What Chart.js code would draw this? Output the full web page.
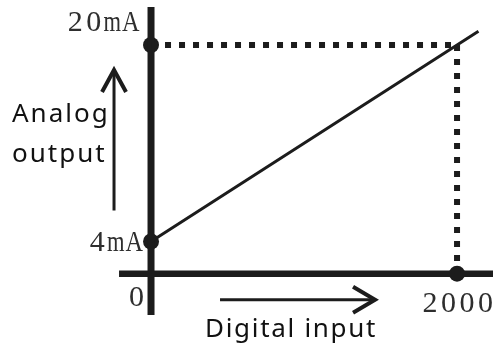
<!DOCTYPE html>
<html><head><meta charset="utf-8">
<script src="https://cdn.jsdelivr.net/npm/chart.js@4/dist/chart.umd.min.js"></script>
<style>html,body{margin:0;padding:0;background:#fff;}#wrap{width:493px;height:345px;position:relative;}</style>
</head><body><div id="wrap"><canvas id="c"></canvas></div>
<script>
// ---- data ----
const inputTicks = [0, 2000];
const inputTickLabels = ['0', '2000'];
const outputTicks = [4, 20];
const outputTickLabels = ['4mA', '20mA'];
const lineInput = [0, 2000, 2140];
const lineOutput = [4, 20, 21.12];
const yTitleLines = ['Analog', 'output'];
const xTitle = 'Digital input';

// ---- scale window (layout) ----
const X_MIN = -987, X_MAX = 2235, Y_MIN = -4.428, Y_MAX = 23.664;
const X_AXIS_AT = 1.38;
const INK = '#1c1c1c';

const pts = (xs, ys) => xs.map((x, i) => ({x, y: ys[i]}));

const overlay = {
  id: 'overlay',
  afterDatasetsDraw(chart) {
    const ctx = chart.ctx, xs = chart.scales.x, ys = chart.scales.y;
    const px = v => xs.getPixelForValue(v), py = v => ys.getPixelForValue(v);
    const axisY = py(X_AXIS_AT);
    ctx.save();
    ctx.strokeStyle = INK; ctx.fillStyle = INK; ctx.lineCap = 'butt'; ctx.lineJoin = 'miter';
    // up arrow
    const ax = px(0) - 37, aTop = py(20) + 25, aBot = py(4) - 31;
    ctx.lineWidth = 3;
    ctx.beginPath(); ctx.moveTo(ax, aBot); ctx.lineTo(ax, aTop + 2); ctx.stroke();
    ctx.lineWidth = 4;
    ctx.beginPath(); ctx.moveTo(ax - 12, aTop + 22); ctx.lineTo(ax, aTop); ctx.lineTo(ax + 12, aTop + 22); ctx.stroke();
    // right arrow
    const ry = axisY + 26, rL = px(0) + 69, rR = px(2000) - 82;
    ctx.lineWidth = 3;
    ctx.beginPath(); ctx.moveTo(rL, ry); ctx.lineTo(rR - 2, ry); ctx.stroke();
    ctx.lineWidth = 4;
    ctx.beginPath(); ctx.moveTo(rR - 22, ry - 13); ctx.lineTo(rR, ry); ctx.lineTo(rR - 22, ry + 13); ctx.stroke();

    // serif tick labels in fixed cells
    ctx.fillStyle = '#2e2e2e';
    ctx.font = '30px "Liberation Serif"';
    ctx.textBaseline = 'alphabetic';
    const cell = 18.5;
    function mono(text, left, base) {
      for (let i = 0; i < text.length; i++) {
        const ch = text[i], w = ctx.measureText(ch).width;
        const s = w > 17.5 ? 17.5 / w : 1;
        ctx.save(); ctx.translate(left + cell * (i + 0.5), base); ctx.scale(s, 1);
        ctx.textAlign = 'center'; ctx.fillText(ch, 0, 0); ctx.restore();
      }
    }
    outputTickLabels.forEach((t, i) => {
      const v = outputTicks[i];
      const right = v === 20 ? px(0) - 11 : px(0) - 7.5;
      const base = v === 20 ? py(v) - 14 : py(v) + 9.5;
      mono(t, right - cell * t.length, base);
    });
    inputTickLabels.forEach((t, i) => {
      const v = inputTicks[i];
      const c = v === 0 ? px(0) - 14.5 : px(v) + 0.75;
      const base = v === 0 ? axisY + 32 : axisY + 38;
      mono(t, c - cell * t.length / 2, base);
    });

    // sans titles
    ctx.fillStyle = '#111';
    ctx.font = '26px "Noto Sans"';
    ctx.textAlign = 'left';
    if ('letterSpacing' in ctx) ctx.letterSpacing = '2px';
    ctx.fillText(yTitleLines[0], 12, 122);
    ctx.fillText(yTitleLines[1], 12, 162);
    if ('letterSpacing' in ctx) ctx.letterSpacing = '1.7px';
    ctx.fillText(xTitle, 205, 337);
    ctx.restore();
  }
};

new Chart(document.getElementById('c'), {
  type: 'scatter',
  data: {
    datasets: [
      { data: [{x: inputTicks[0], y: outputTicks[1]}, {x: inputTicks[1], y: outputTicks[1]}],
        showLine: true, borderColor: INK, borderWidth: 6, borderDash: [6, 8], borderCapStyle: 'butt', pointRadius: 0 },
      { data: [{x: inputTicks[1], y: outputTicks[1]}, {x: inputTicks[1], y: X_AXIS_AT}],
        showLine: true, borderColor: INK, borderWidth: 6, borderDash: [6, 8], borderCapStyle: 'butt', pointRadius: 0 },
      { data: pts(lineInput, lineOutput), showLine: true, borderColor: INK, borderWidth: 3, pointRadius: 0 },
      { data: [{x: -209, y: X_AXIS_AT}, {x: X_MAX, y: X_AXIS_AT}], showLine: true, borderColor: INK, borderWidth: 6.5, pointRadius: 0 },
      { data: [{x: 0, y: -1.985}, {x: 0, y: 23.094}], showLine: true, borderColor: INK, borderWidth: 7, pointRadius: 0 },
      { data: [{x: inputTicks[0], y: outputTicks[1]}, {x: inputTicks[0], y: outputTicks[0]}, {x: inputTicks[1], y: X_AXIS_AT}],
        showLine: false, pointRadius: 8, pointBackgroundColor: INK, pointBorderWidth: 0, borderColor: INK }
    ]
  },
  options: {
    responsive: true, maintainAspectRatio: false, animation: false, events: [],
    layout: { padding: 0, autoPadding: false },
    plugins: { legend: { display: false }, tooltip: { enabled: false } },
    scales: {
      x: { type: 'linear', display: false, min: X_MIN, max: X_MAX },
      y: { type: 'linear', display: false, min: Y_MIN, max: Y_MAX }
    },
    elements: { line: { tension: 0 } }
  },
  plugins: [overlay]
});
</script></body></html>
